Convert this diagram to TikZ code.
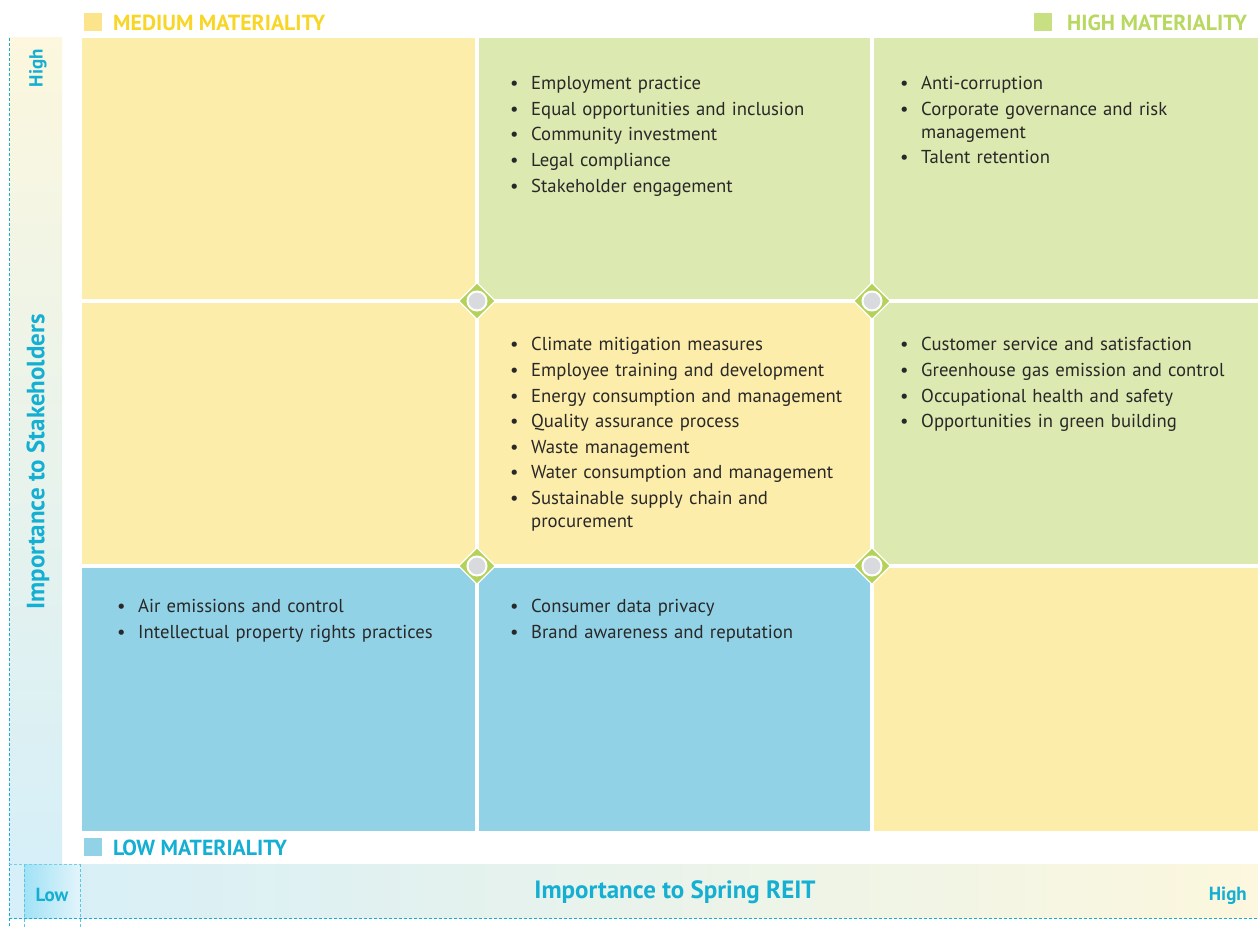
\documentclass[tikz,border=0pt]{standalone}
\usepackage{fontspec}
\setmainfont{PT Sans}
\usetikzlibrary{shapes.geometric}
\definecolor{cellY}{RGB}{253,237,170}
\definecolor{cellG}{RGB}{220,233,176}
\definecolor{cellB}{RGB}{146,210,230}
\definecolor{legY}{RGB}{248,214,40}
\definecolor{legYsq}{RGB}{252,228,140}
\definecolor{legG}{RGB}{184,216,96}
\definecolor{legGsq}{RGB}{200,224,130}
\definecolor{legB}{RGB}{20,175,210}
\definecolor{legBsq}{RGB}{146,210,230}
\definecolor{axcyan}{RGB}{20,175,210}
\definecolor{barcream}{RGB}{252,247,222}
\definecolor{barblue}{RGB}{214,239,248}
\definecolor{cornerblue}{RGB}{160,226,246}
\definecolor{diamG}{RGB}{180,210,90}
\definecolor{dotgray}{RGB}{217,218,222}
\definecolor{txt}{RGB}{40,40,40}
\newcommand{\bitem}[1]{\par\hangindent=22pt\hangafter=1\noindent\makebox[22pt][l]{\hspace{1pt}•}#1\par}
\tikzset{
  lst/.style={anchor=north west, inner sep=0pt, text width=360pt, align=left, text=txt,
    font=\fontsize{18.7}{23}\selectfont\setlength{\parskip}{2.6pt}},
  legtxt/.style={anchor=west, inner sep=0pt, font=\fontsize{21.8}{26}\selectfont\bfseries},
  legsq/.style={minimum width=18pt, minimum height=18pt, inner sep=0pt, draw=none},
  axlab/.style={text=axcyan, inner sep=0pt, font=\fontsize{19}{22}\selectfont\bfseries},
  axtitle/.style={text=axcyan, inner sep=0pt, font=\fontsize{25}{30}\selectfont\bfseries},
  diam/.style={diamond, fill=diamG, draw=white, line width=1.2pt, minimum width=37pt, minimum height=37pt, inner sep=0pt},
  dot/.style={circle, fill=dotgray, draw=white, line width=2pt, minimum size=19pt, inner sep=0pt}
}
\begin{document}
\begin{tikzpicture}[x=1pt,y=-1pt]
\useasboundingbox (0,0) rectangle (1258,928);
\fill[white] (0,0) rectangle (1258,928);
% axis bars
\shade[top color=barcream, bottom color=barblue] (9,38) rectangle (62,864);
\shade[left color=barblue, right color=barcream] (9,864) rectangle (1258,918);
\shade[left color=cornerblue, right color=barblue!70!white] (24,864) rectangle (80,918);
\draw[axcyan, densely dashed, line width=0.8pt] (9,38) -- (9,928);
\draw[axcyan!70, densely dashed, line width=0.6pt] (24,864) -- (24,928);
\draw[axcyan!70, densely dashed, line width=0.6pt] (80,864) -- (80,928);
\draw[axcyan!60, densely dashed, line width=0.6pt] (9,864) -- (80,864);
\draw[axcyan, densely dashed, line width=1pt] (9,918) -- (1258,918);
% cells
\fill[cellY] (82,38) rectangle (475,299);
\fill[cellG] (479,38) rectangle (870,299);
\fill[cellG] (874,38) rectangle (1258,299);
\fill[cellY] (82,303) rectangle (475,564);
\fill[cellY] (479,303) rectangle (870,564);
\fill[cellG] (874,303) rectangle (1258,564);
\fill[cellB] (82,568) rectangle (475,831);
\fill[cellB] (479,568) rectangle (870,831);
\fill[cellY] (874,568) rectangle (1258,831);
% diamonds
\foreach \n/\p in {d1/{(477,301)}, d2/{(872,301)}, d3/{(477,566)}, d4/{(872,566)}}{
  \node[diam] (\n) at \p {};
  \node[dot] at (\n.center) {};
}
% legends
\node[legsq, fill=legYsq] (sqm) at (93,22) {};
\node[legtxt, text=legY] (lm) at (113,23) {MEDIUM MATERIALITY};
\node[legsq, fill=legGsq] (sqh) at (1043,22) {};
\node[legtxt, text=legG] (lh) at (1067,23) {HIGH MATERIALITY};
\node[legsq, fill=legBsq] (sql) at (93,847) {};
\node[legtxt, text=legB] (ll) at (113,848) {LOW MATERIALITY};
% axis labels
\node[axlab, rotate=90] (yhigh) at (38,68) {High};
\node[axtitle, rotate=90] (ytitle) at (38,462) {Importance to Stakeholders};
\node[axlab, anchor=base] (xlow) at (52,901) {Low};
\node[axlab, anchor=base east] (xhigh) at (1247,900) {High};
\node[axtitle, anchor=base] (xtitle) at (675,898) {Importance to Spring REIT};
% lists
\node[lst] (tm) at (509,64) {\bitem{Employment practice}\bitem{Equal opportunities and inclusion}\bitem{Community investment}\bitem{Legal compliance}\bitem{Stakeholder engagement}};
\node[lst] (tr) at (899,64) {\bitem{Anti-corruption}\bitem{Corporate governance and risk\newline management}\bitem{Talent retention}};
\node[lst] (mm) at (509,325) {\bitem{Climate mitigation measures}\bitem{Employee training and development}\bitem{Energy consumption and management}\bitem{Quality assurance process}\bitem{Waste management}\bitem{Water consumption and management}\bitem{Sustainable supply chain and\newline procurement}};
\node[lst] (mr) at (899,325) {\bitem{Customer service and satisfaction}\bitem{Greenhouse gas emission and control}\bitem{Occupational health and safety}\bitem{Opportunities in green building}};
\node[lst] (bl) at (116,587) {\bitem{Air emissions and control}\bitem{Intellectual property rights practices}};
\node[lst] (bm) at (509,587) {\bitem{Consumer data privacy}\bitem{Brand awareness and reputation}};
\end{tikzpicture}
\end{document}
